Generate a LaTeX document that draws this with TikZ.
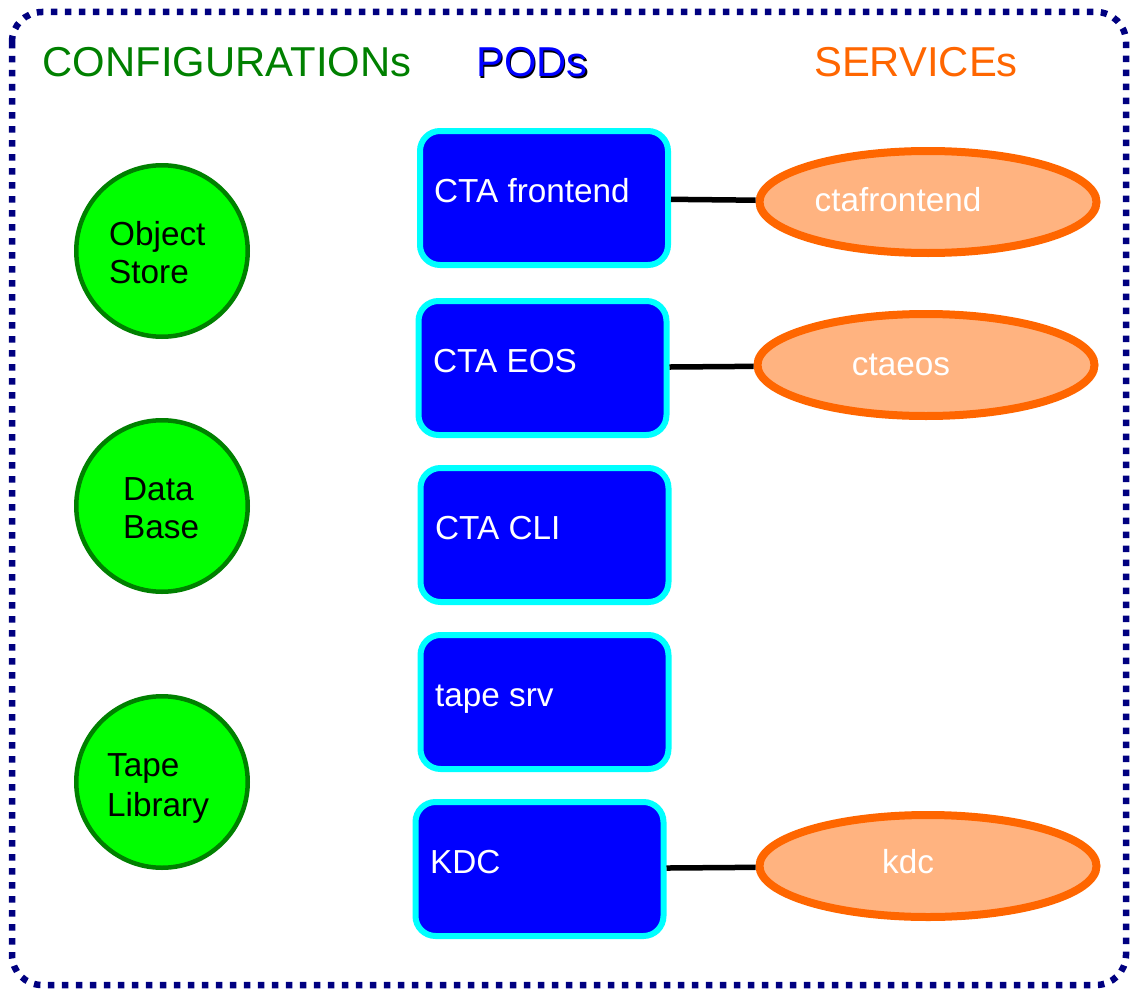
\documentclass[tikz,border=0pt]{standalone}
\usepackage{fontspec}
\setmainfont{Liberation Sans}
\usetikzlibrary{shapes.geometric}
\definecolor{navyb}{HTML}{000080}
\definecolor{cfggreen}{HTML}{008000}
\definecolor{cfgfill}{HTML}{00FF00}
\definecolor{podblue}{HTML}{0000FF}
\definecolor{podcyan}{HTML}{00FFFF}
\definecolor{svcorange}{HTML}{FF6600}
\definecolor{svcfill}{HTML}{FFB380}
\tikzset{
  frame/.style={draw=navyb, line width=6.5pt, dash pattern=on 6.5pt off 7.5pt, rounded corners=30pt},
  title/.style={font=\fontsize{41.8}{41.8}\selectfont, anchor=base, inner sep=0pt},
  cfg/.style={circle, draw=cfggreen, fill=cfgfill, line width=4.5pt, minimum size=171.5pt, inner sep=0pt},
  cfgtext/.style={font=\fontsize{33.3}{38}\selectfont, align=left, anchor=base west, inner sep=0pt, text=black},
  pod/.style={draw=podcyan, fill=podblue, line width=6pt, rounded corners=20pt, minimum width=248pt, minimum height=134pt, inner sep=0pt},
  podtext/.style={font=\fontsize{33.3}{33}\selectfont, text=white, anchor=base west, inner sep=0pt},
  svc/.style={ellipse, draw=svcorange, fill=svcfill, line width=8pt, minimum width=337pt, minimum height=102pt, inner sep=0pt},
  svctext/.style={font=\fontsize{33.3}{33}\selectfont, text=white, anchor=base, inner sep=0pt},
  link/.style={draw=black, line width=5.5pt}
}
\begin{document}
\begin{tikzpicture}[x=1pt,y=-1pt]
\useasboundingbox (0,0) rectangle (1130,990);
\draw[frame] (12,12) rectangle (1126,985);

% titles
\node[title, text=cfggreen] (tcfg) at (227,77) {CONFIGURATIONs};
\node[title, text=podblue] (tpod) at (532,77) {\makebox[0pt][l]{\hspace{1.2pt}\raisebox{-1.2pt}{\color{black}PODs}}PODs};
\node[title, text=svcorange] (tsvc) at (916,77) {SERVICEs};

% configurations
\node[cfg] (c1) at (162,251) {};
\node[cfgtext] at (109,283) {Object\\Store};
\node[cfg] (c2) at (162,506) {};
\node[cfgtext] at (123,538) {Data\\Base};
\node[cfg] (c3) at (162,782) {};
\node[cfgtext, font=\fontsize{33.3}{40}\selectfont] at (107,816) {Tape\\Library};

% pods
\node[pod] (p1) at (544,198) {};
\node[pod] (p2) at (542.5,368) {};
\node[pod] (p3) at (544.5,535) {};
\node[pod] (p4) at (544.5,702) {};
\node[pod] (p5) at (539.5,869) {};
\node[podtext] at (434,202) {CTA frontend};
\node[podtext] at (433,372) {CTA EOS};
\node[podtext] at (435,539) {CTA CLI};
\node[podtext] at (435,706) {tape srv};
\node[podtext] at (430,873) {KDC};

% services
\node[svc] (s1) at (928,202) {};
\node[svc] (s2) at (926,365) {};
\node[svc] (s3) at (928,866) {};
\node[svctext] at (898,211) {ctafrontend};
\node[svctext] at (901,375) {ctaeos};
\node[svctext] at (908,873) {kdc};

% connectors
\draw[link] (p1) -- (s1);
\draw[link] (p2) -- (s2);
\draw[link] (p5) -- (s3);
\end{tikzpicture}
\end{document}
